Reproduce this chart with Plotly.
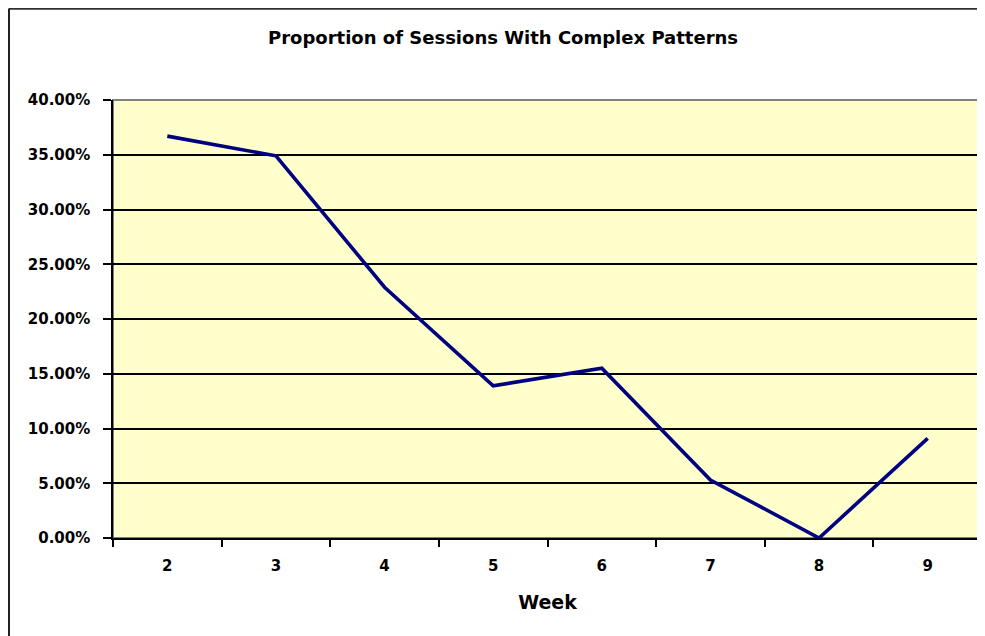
import plotly.graph_objects as go

# Week number vs. share of sessions showing complex patterns
weeks = ["2", "3", "4", "5", "6", "7", "8", "9"]
proportion = [0.367, 0.349, 0.229, 0.139, 0.155, 0.053, 0.0, 0.091]

y_ticks = [0.0, 0.05, 0.10, 0.15, 0.20, 0.25, 0.30, 0.35, 0.40]

FONT = "DejaVu Sans"

fig = go.Figure(
    go.Scatter(
        x=weeks,
        y=proportion,
        mode="lines",
        line=dict(color="#000080", width=3.6),
        showlegend=False,
    )
)

# page has an 8px body margin; size/margins chosen so the plot lands where Excel put it
fig.update_layout(
    width=977,
    height=628,
    margin=dict(l=105, r=3, t=92, b=98),
    paper_bgcolor="white",
    plot_bgcolor="#FFFFCC",
    title=dict(
        text="Proportion of Sessions With Complex Patterns",
        x=0.5067,
        xanchor="center",
        y=0.952,
        yanchor="middle",
        font=dict(family=FONT, size=18, color="black", weight="bold"),
    ),
    font=dict(family=FONT, color="black"),
)

fig.update_xaxes(
    type="category",
    tickson="boundaries",
    ticks="outside",
    ticklen=7,
    tickwidth=1.5,
    tickcolor="black",
    ticklabelstandoff=13,
    showline=True,
    linecolor="black",
    linewidth=1.5,
    showgrid=False,
    tickfont=dict(family=FONT, size=15, color="black", weight="bold"),
    title=dict(text="Week", font=dict(family=FONT, size=19, weight="bold"), standoff=22),
    range=[-0.5, 7.5],
)

fig.update_yaxes(
    range=[0, 0.40],
    tickvals=y_ticks,
    tickformat=".2%",
    ticks="outside",
    ticklen=8,
    tickwidth=1.5,
    tickcolor="black",
    ticklabelstandoff=10,
    showline=True,
    linecolor="black",
    linewidth=1.5,
    showgrid=True,
    gridcolor="black",
    gridwidth=1.5,
    zeroline=False,
    tickfont=dict(family=FONT, size=15, color="black", weight="bold"),
)

# grey plot-area frame (top / right) like the Excel chart
fig.add_shape(
    type="rect", xref="paper", yref="paper", x0=0, x1=1, y0=0, y1=1,
    line=dict(color="#808080", width=2), layer="below",
)
# outer chart-area border: only its top and left edges fall inside the picture
fig.add_shape(
    type="line", xref="paper", yref="paper", x0=-0.1197, x1=1.05, y0=1.209, y1=1.209,
    line=dict(color="#303030", width=2.5),
)
fig.add_shape(
    type="line", xref="paper", yref="paper", x0=-0.1197, x1=-0.1197, y0=-0.3, y1=1.209,
    line=dict(color="#202020", width=2),
)

fig.write_html("out.html")
